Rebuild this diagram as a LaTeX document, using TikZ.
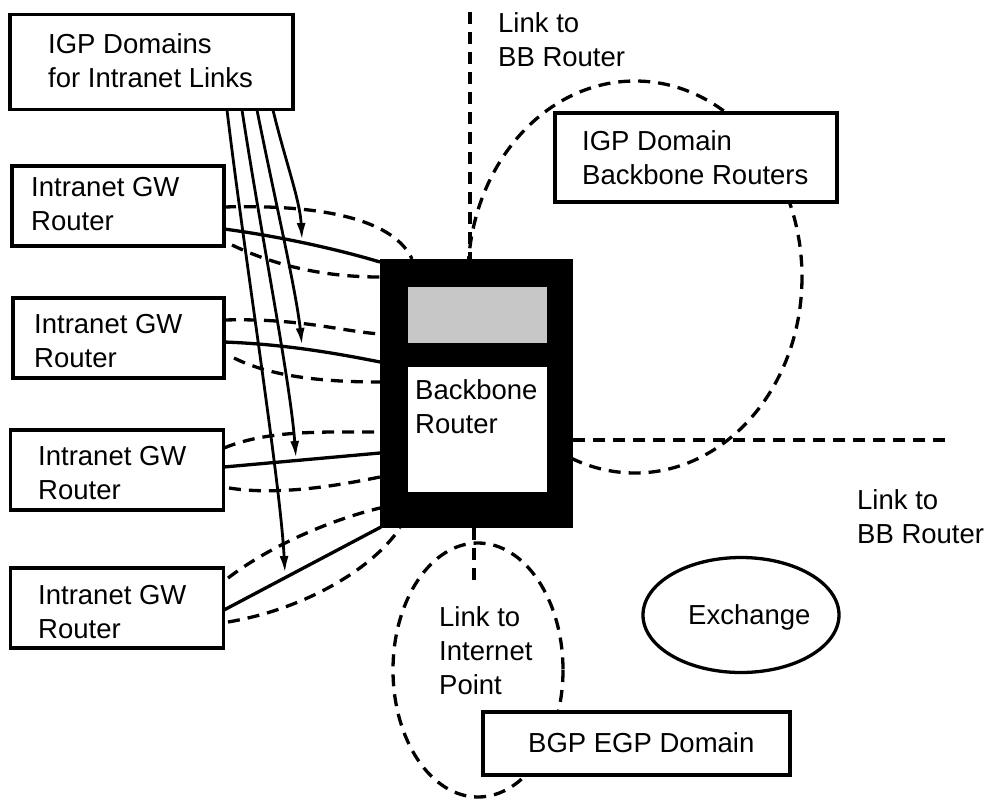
\documentclass[tikz,border=0pt]{standalone}
\usepackage{fontspec}
\setmainfont{Liberation Sans}
\usetikzlibrary{arrows.meta,shapes.geometric}
\begin{document}
\begin{tikzpicture}[x=1pt,y=-1pt,
  lbl/.style={anchor=base west,inner sep=0pt,align=left,font=\fontsize{27.5}{34}\selectfont},
  boxnode/.style={draw,line width=3.4pt,fill=white,inner sep=0pt},
  solidlink/.style={line width=3.3pt},
  dashlink/.style={line width=3.3pt,dash pattern=on 12pt off 8pt},
  feed/.style={line width=2.8pt,-{Latex[length=17pt,width=9pt]}}]
\useasboundingbox (0,0) rectangle (989,801);

% dashed domain ellipses (behind everything else)
\draw[dashlink] (635,277) ellipse [x radius=167,y radius=196];
\draw[dashlink] (478,670) ellipse [x radius=85,y radius=127];

% end points of the links
\coordinate (bbTop) at (470,12);
\coordinate (bbRight) at (950,440);
\coordinate (inetEnd) at (474,583);

% backbone router
\node[fill=black,minimum width=193pt,minimum height=269pt,inner sep=0pt] (bb) at (476.5,393.5) {};
\node[fill=black!22,minimum width=139pt,minimum height=56pt,inner sep=0pt] (bbPanel) at (477.5,315) {};
\node[fill=white,minimum width=139pt,minimum height=125pt,inner sep=0pt] (bbFace) at (477.5,429.5) {};
\node[lbl] (bbText) at (415,433) {Backbone\\Router};

% links to other backbone routers and the internet point
\draw[dashlink] (bbTop) -- (bbTop |- bb.north);
\draw[dashlink] (bb.east |- bbRight) -- (bbRight);
\draw[dashlink] (inetEnd |- bb.south) -- (inetEnd);

% boxes
\node[boxnode,minimum width=283pt,minimum height=95pt] (igp) at (151.5,62) {};
\node[boxnode,minimum width=212pt,minimum height=80pt] (gw1) at (118,206) {};
\node[boxnode,minimum width=211pt,minimum height=80pt] (gw2) at (118.5,338) {};
\node[boxnode,minimum width=213pt,minimum height=80pt] (gw3) at (117,470) {};
\node[boxnode,minimum width=213pt,minimum height=80pt] (gw4) at (117,608) {};
\node[boxnode,minimum width=282pt,minimum height=89pt] (igpbb) at (696,157.5) {};
\node[boxnode,minimum width=307pt,minimum height=63pt] (bgp) at (636.5,743.5) {};
\node[draw,line width=3.3pt,ellipse,minimum width=196pt,minimum height=115pt,inner sep=0pt] (exch) at (741,615) {};

% labels (anchored at the baseline of their last line)
\node[lbl] (igpText) at (48,87) {IGP Domains\\for Intranet Links};
\node[lbl] (gw1Text) at (31,230) {Intranet GW\\Router};
\node[lbl] (gw2Text) at (34,367) {Intranet GW\\Router};
\node[lbl] (gw3Text) at (38,499) {Intranet GW\\Router};
\node[lbl] (gw4Text) at (38,638) {Intranet GW\\Router};
\node[lbl] (topLinkText) at (498,66) {Link to\\BB Router};
\node[lbl] (igpbbText) at (582,184) {IGP Domain\\Backbone Routers};
\node[lbl] (rightLinkText) at (857,543) {Link to\\BB Router};
\node[lbl] (inetText) at (439,694) {Link to\\Internet\\Point};
\node[lbl] (exchText) at (688,624) {Exchange};
\node[lbl] (bgpText) at (528,752) {BGP EGP Domain};

% attachment points of the intranet gateways on the backbone router
\coordinate (gw1a) at (224,207);  \coordinate (bb1a) at (412,259);
\coordinate (gw1s) at (224,229);  \coordinate (bb1s) at (380,262);
\coordinate (gw1b) at (232,245);  \coordinate (bb1b) at (380,277);
\coordinate (gw2a) at (224,320);  \coordinate (bb2a) at (380,334);
\coordinate (gw2s) at (224,342);  \coordinate (bb2s) at (380,362);
\coordinate (gw2b) at (234,358);  \coordinate (bb2b) at (380,382);
\coordinate (gw3a) at (224,448);  \coordinate (bb3a) at (380,432);
\coordinate (gw3s) at (224,467);  \coordinate (bb3s) at (380,453);
\coordinate (gw3b) at (229,488);  \coordinate (bb3b) at (380,477);
\coordinate (gw4a) at (228,578);  \coordinate (bb4a) at (380,508);
\coordinate (gw4s) at (224,610);  \coordinate (bb4s) at (381,527);
\coordinate (gw4b) at (228,622);  \coordinate (bb4b) at (400,528);

% dashed intranet domains
\draw[dashlink] (gw1a) .. controls (330,204) and (395,222) .. (bb1a);
\draw[dashlink] (gw1b) .. controls (280,268) and (330,277) .. (bb1b);
\draw[dashlink] (gw2a) .. controls (300,318) and (340,331) .. (bb2a);
\draw[dashlink] (gw2b) .. controls (270,376) and (320,382) .. (bb2b);
\draw[dashlink] (gw3a) .. controls (268,430) and (320,432) .. (bb3a);
\draw[dashlink] (gw3b) .. controls (280,496) and (340,485) .. (bb3b);
\draw[dashlink] (gw4a) .. controls (270,546) and (330,520) .. (bb4a);
\draw[dashlink] (gw4b) .. controls (300,610) and (370,572) .. (bb4b);

% solid intranet links
\draw[solidlink] (gw1s) .. controls (270,235) and (330,247) .. (bb1s);
\draw[solidlink] (gw2s) .. controls (280,344) and (330,352) .. (bb2s);
\draw[solidlink] (gw3s) -- (bb3s);
\draw[solidlink] (gw4s) -- (bb4s);

% IGP domain assignments
\coordinate (igpA) at (273,110); \coordinate (tipA) at (302,240);
\coordinate (igpB) at (257,110); \coordinate (tipB) at (302,345);
\coordinate (igpC) at (242,110); \coordinate (tipC) at (296,458);
\coordinate (igpD) at (227,110); \coordinate (tipD) at (285,573);
\draw[feed] (igpA) .. controls (285,160) and (300,200) .. (tipA);
\draw[feed] (igpB) .. controls (275,200) and (296,290) .. (tipB);
\draw[feed] (igpC) .. controls (262,240) and (290,380) .. (tipC);
\draw[feed] (igpD) .. controls (245,260) and (280,480) .. (tipD);
\end{tikzpicture}
\end{document}
